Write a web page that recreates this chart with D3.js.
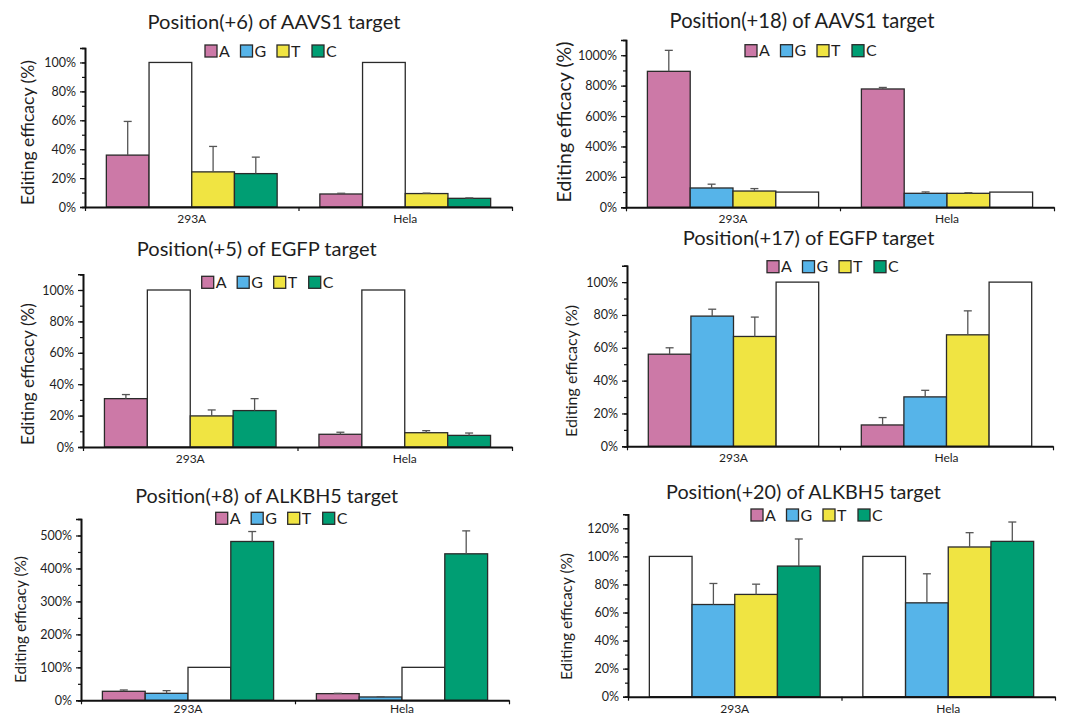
<!DOCTYPE html>
<html><head><meta charset="utf-8">
<script src="https://cdn.jsdelivr.net/npm/d3@7"></script>
<style>
body{margin:0;background:#fff}
svg{display:block}
text{font-family:Lato,"Open Sans",sans-serif;fill:#1e1e1e}
</style>
</head><body>
<svg id="c" width="1072" height="716"></svg>
<script>
// ---------- DATA ----------
const groups = ["293A", "Hela"];
const bases = ["A", "G", "T", "C"];
const baseColors = ["#CC79A7", "#56B4E9", "#F0E442", "#009E73"];
const titles = [
  "Position(+6) of AAVS1 target",
  "Position(+18) of AAVS1 target",
  "Position(+5) of EGFP target",
  "Position(+17) of EGFP target",
  "Position(+8) of ALKBH5 target",
  "Position(+20) of ALKBH5 target"
];
const yLabel = "Editing efficacy (%)";
// reference (unedited) base of each target, drawn as a white bar = 100%
const refBases = ["G", "C", "G", "C", "T", "A"];
// mean values, [293A], [Hela], order A G T C
const aavs1P6  = [[35.9, 100, 24.3, 23.1], [9.0, 100, 9.3, 6.0]];
const aavs1P18 = [[894, 127, 107, 100], [778, 92, 92, 100]];
const egfpP5   = [[30.8, 100, 19.8, 23.2], [8.1, 100, 9.1, 7.4]];
const egfpP17  = [[56.1, 79.3, 66.9, 100], [13.0, 30.1, 67.9, 100]];
const alkP8    = [[27.3, 21.2, 100, 481.8], [20.2, 10.1, 100, 444.4]];
const alkP20   = [[100, 65.7, 72.9, 93.1], [100, 66.9, 106.7, 110.7]];
// standard deviations (upper error bars)
const aavs1P6Sd  = [[23.3, 0, 17.6, 11.4], [0.5, 0, 0.3, 0.3]];
const aavs1P18Sd = [[138, 25, 16, 0], [10, 9, 4, 0]];
const egfpP5Sd   = [[2.6, 0, 3.8, 7.6], [1.3, 0, 1.3, 1.5]];
const egfpP17Sd  = [[3.9, 4.2, 11.8, 0], [4.5, 4.0, 14.6, 0]];
const alkP8Sd    = [[4.0, 8.1, 0, 30.2], [1.0, 0.9, 0, 69.6]];
const alkP20Sd   = [[0, 15.0, 7.3, 19.3], [0, 20.7, 10.2, 13.8]];
// y axis scales: max, major step, minor step
const yMax   = [110, 1100, 110, 110, 550, 130];
const yMajor = [20, 200, 20, 20, 100, 20];
const yMinor = [10, 100, 10, 10, 50, 10];

const panelValues = [aavs1P6, aavs1P18, egfpP5, egfpP17, alkP8, alkP20];
const panelSd = [aavs1P6Sd, aavs1P18Sd, egfpP5Sd, egfpP17Sd, alkP8Sd, alkP20Sd];

// ---------- LAYOUT ----------
const layout = [
  {left:85,  right:512,  y0:207,   ytop:48,    tx:274,   ty:29,    tw:253, lx:205,   ly:51,    yx:28,    yy:132.5, yl:145},
  {left:626, right:1054, y0:207.3, ytop:40,    tx:802,   ty:28.3,  tw:265, lx:745,   ly:50.7,  yx:564,   yy:122,   yl:161},
  {left:83,  right:512,  y0:447,   ytop:274.3, tx:256.7, ty:256,   tw:240, lx:201.7, ly:282.3, yx:27.5,  yy:374,   yl:142},
  {left:627, right:1053, y0:446.3, ytop:265.7, tx:808.5, ty:245,   tw:252, lx:767,   ly:266.7, yx:571.8, yy:371,   yl:132},
  {left:81,  right:509,  y0:700.3, ytop:519,   tx:266.7, ty:502.7, tw:263, lx:215.7, ly:518.3, yx:20.7,  yy:619.5, yl:127},
  {left:628, right:1055, y0:696.7, ytop:514.3, tx:803.5, ty:499.3, tw:275, lx:751,   ly:515,   yx:566.8, yy:616.5, yl:127}
];
const legendOffsets = [0, 35.5, 72, 107];

const svg = d3.select("#c");
const color = d3.scaleOrdinal().domain(bases).range(baseColors);

function fitText(sel, target) {
  const n = sel.node();
  const w = n.getComputedTextLength();
  const fs = parseFloat(sel.attr("font-size"));
  sel.attr("font-size", (fs * target / w).toFixed(2));
}

panelValues.forEach((vals, pi) => {
  const L = layout[pi];
  const g = svg.append("g");
  const x = d3.scaleBand().domain(groups).range([L.left, L.right]).paddingInner(0).paddingOuter(0);
  const xi = d3.scaleBand().domain(bases).range([0, x.bandwidth()]).paddingInner(0).paddingOuter(0.5);
  const y = d3.scaleLinear().domain([0, yMax[pi]]).range([L.y0, L.ytop]);

  // bars
  const rows = [];
  groups.forEach((grp, gi) => bases.forEach((b, bi) => rows.push({grp, b, v: vals[gi][bi], sd: panelSd[pi][gi][bi]})));
  g.selectAll("rect.bar").data(rows).join("rect")
    .attr("x", d => x(d.grp) + xi(d.b))
    .attr("width", xi.bandwidth())
    .attr("y", d => y(d.v))
    .attr("height", d => y(0) - y(d.v))
    .attr("fill", d => d.b === refBases[pi] ? "#ffffff" : color(d.b))
    .attr("stroke", "#2a2a2a").attr("stroke-width", 1.3);

  // error bars
  const eb = g.selectAll("g.err").data(rows.filter(d => d.sd > 0)).join("g").attr("stroke", "#555").attr("stroke-width", 1.3);
  eb.append("line")
    .attr("x1", d => x(d.grp) + xi(d.b) + xi.bandwidth() / 2)
    .attr("x2", d => x(d.grp) + xi(d.b) + xi.bandwidth() / 2)
    .attr("y1", d => y(d.v)).attr("y2", d => y(d.v + d.sd));
  eb.append("line")
    .attr("x1", d => x(d.grp) + xi(d.b) + xi.bandwidth() / 2 - 4)
    .attr("x2", d => x(d.grp) + xi(d.b) + xi.bandwidth() / 2 + 4)
    .attr("y1", d => y(d.v + d.sd)).attr("y2", d => y(d.v + d.sd));

  // y axis
  const majors = d3.range(0, yMax[pi] - yMajor[pi] / 2 + 0.001, yMajor[pi]);
  const minors = d3.range(0, yMax[pi] + 0.001, yMinor[pi]);
  const yAxisMinor = d3.axisLeft(y).tickValues(minors).tickSize(3).tickFormat("");
  const ga1 = g.append("g").attr("transform", `translate(${L.left},0)`).call(yAxisMinor);
  const yAxis = d3.axisLeft(y).tickValues(majors).tickSize(5).tickPadding(4).tickFormat(d => d + "%");
  const ga = g.append("g").attr("transform", `translate(${L.left},0)`).call(yAxis);
  [ga, ga1].forEach(a => {
    a.select(".domain").attr("stroke", "#111").attr("stroke-width", 1.6);
    a.selectAll(".tick line").attr("stroke", "#111").attr("stroke-width", 1.2);
  });
  ga.selectAll(".tick text").attr("font-size", 12.5).attr("font-family", "Lato,'Open Sans',sans-serif").attr("fill", "#1e1e1e");

  // x axis
  const xb = d3.scaleLinear().domain([0, groups.length]).range([L.left, L.right]);
  const gx = g.append("g").attr("transform", `translate(0,${L.y0})`)
    .call(d3.axisBottom(xb).tickValues(d3.range(0, groups.length + 1)).tickSize(4).tickSizeOuter(0).tickFormat(""));
  gx.select(".domain").attr("stroke", "#111").attr("stroke-width", 2);
  gx.selectAll(".tick line").attr("stroke", "#111").attr("stroke-width", 1.2);
  g.selectAll("text.xl").data(groups).join("text").attr("class", "xl")
    .attr("x", d => x(d) + x.bandwidth() / 2).attr("y", Math.min(L.y0 + 16, 713))
    .attr("text-anchor", "middle").attr("font-size", 12).text(d => d);

  // title
  const t = g.append("text").attr("x", L.tx).attr("y", L.ty).attr("text-anchor", "middle")
    .attr("font-size", 20).text(titles[pi]);
  fitText(t, L.tw);

  // y label
  const yl = g.append("text").attr("transform", `translate(${L.yx},${L.yy}) rotate(-90)`)
    .attr("text-anchor", "middle").attr("dy", "0.35em").attr("font-size", 16).text(yLabel);
  fitText(yl, L.yl);

  // legend
  const lg = g.selectAll("g.leg").data(bases).join("g")
    .attr("transform", (d, i) => `translate(${L.lx + legendOffsets[i]},${L.ly})`);
  lg.append("rect").attr("x", 0).attr("y", -6).attr("width", 12).attr("height", 12)
    .attr("fill", d => color(d)).attr("stroke", "#2a2a2a").attr("stroke-width", 1.3);
  lg.append("text").attr("x", 14).attr("dy", "0.36em").attr("font-size", 16).text(d => d);
});
</script>
</body></html>
